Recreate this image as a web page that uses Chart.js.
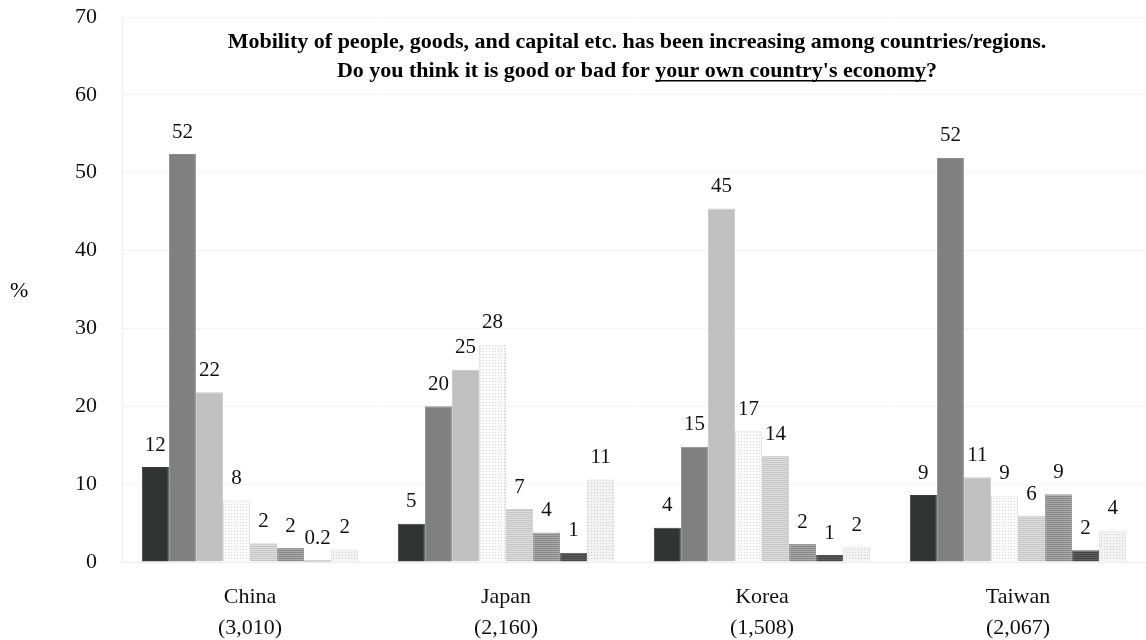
<!DOCTYPE html>
<html>
<head>
<meta charset="utf-8">
<script src="https://cdn.jsdelivr.net/npm/chart.js@4.4.0/dist/chart.umd.min.js"></script>
<style>
  html, body { margin: 0; padding: 0; background: #fff; }
  #wrap { width: 1146px; height: 640px; }
</style>
</head>
<body>
<div id="wrap"><canvas id="myChart" width="1146" height="640"></canvas></div>
<script>
const categories = [["China", "(3,010)"], ["Japan", "(2,160)"], ["Korea", "(1,508)"], ["Taiwan", "(2,067)"]];
// one array per answer option, values in % for China, Japan, Korea, Taiwan
const option1 = [12.2, 4.9, 4.4, 8.6];
const option2 = [52.4, 20.0, 14.8, 51.9];
const option3 = [21.8, 24.7, 45.4, 10.9];
const option4 = [7.9, 27.9, 16.8, 8.5];
const option5 = [2.4, 6.8, 13.6, 5.9];
const option6 = [1.8, 3.8, 2.3, 8.7];
const option7 = [0.2, 1.2, 0.9, 1.5];
const option8 = [1.6, 10.6, 1.9, 4.0];
const yTicks = [0, 10, 20, 30, 40, 50, 60, 70];

const titleLine1 = "Mobility of people, goods, and capital etc. has been increasing among countries/regions.";
const titleLine2a = "Do you think it is good or bad for ";
const titleLine2b = "your own country's economy";
const titleLine2c = "?";

const serif = "'Liberation Serif', 'Times New Roman', serif";

function stripes(c1, c2) {
    const p = document.createElement('canvas');
    p.width = 4; p.height = 4;
    const g = p.getContext('2d');
    g.fillStyle = c1; g.fillRect(0, 0, 4, 4);
    g.fillStyle = c2; g.fillRect(0, 0, 4, 1); g.fillRect(0, 2, 4, 1);
    return g.createPattern(p, 'repeat');
}
function dots(bg, dot) {
    const p = document.createElement('canvas');
    p.width = 3; p.height = 3;
    const g = p.getContext('2d');
    g.fillStyle = bg; g.fillRect(0, 0, 3, 3);
    g.fillStyle = dot; g.fillRect(0, 0, 1, 1);
    return g.createPattern(p, 'repeat');
}

const ctx = document.getElementById('myChart');

const fills = [
    "#323433",
    "#808080",
    "#c0c0c0",
    dots("#fafafa", "#d8d8d8"),
    stripes("#dedede", "#c4c4c4"),
    stripes("#a8a8a8", "#888888"),
    stripes("#5e5e5e", "#444444"),
    dots("#f2f2f2", "#d0d0d0")
];
const edges = ["#3c3c3c", "#8a8a8a", "#c8c8c8", "#e4e4e4", "#d4d4d4", "#9a9a9a", "#555555", "#e0e0e0"];
const seriesData = [option1, option2, option3, option4, option5, option6, option7, option8];

const valueLabels = {
    id: 'valueLabels',
    afterDatasetsDraw(chart) {
        const g = chart.ctx;
        g.save();
        g.font = "21px " + serif;
        g.fillStyle = "#111";
        g.textAlign = "center";
        g.textBaseline = "middle";
        chart.data.datasets.forEach((ds, i) => {
            chart.getDatasetMeta(i).data.forEach((bar, j) => {
                const v = ds.data[j];
                const txt = v < 0.5 ? String(v) : String(Math.round(v));
                g.fillText(txt, bar.x, bar.y - 22);
            });
        });
        g.restore();
    }
};

const extraText = {
    id: 'extraText',
    afterDraw(chart) {
        const g = chart.ctx;
        g.save();
        g.fillStyle = "#000";
        g.font = "bold 22px " + serif;
        g.textBaseline = "alphabetic";
        g.textAlign = "center";
        const cx = 637;
        g.fillText(titleLine1, cx, 48);
        const wa = g.measureText(titleLine2a).width;
        const wb = g.measureText(titleLine2b).width;
        const wc = g.measureText(titleLine2c).width;
        let x = cx - (wa + wb + wc) / 2;
        g.textAlign = "left";
        g.fillText(titleLine2a, x, 77);
        g.fillText(titleLine2b, x + wa, 77);
        g.fillRect(x + wa, 80, wb, 1.5);
        g.fillText(titleLine2c, x + wa + wb, 77);
        g.font = "22px " + serif;
        g.fillText("%", 10, 297);
        g.restore();
    }
};

new Chart(ctx, {
    type: "bar",
    data: {
        labels: categories,
        datasets: seriesData.map((d, i) => ({
            data: d,
            backgroundColor: fills[i],
            borderColor: edges[i],
            borderWidth: 1,
            categoryPercentage: 0.845,
            barPercentage: 1
        }))
    },
    options: {
        responsive: false,
        animation: false,
        layout: { padding: { top: 17, right: 0, left: 0, bottom: 0 } },
        plugins: {
            legend: { display: false },
            title: { display: false },
            tooltip: { enabled: false }
        },
        scales: {
            x: {
                grid: { display: false },
                border: { color: "#ececec" },
                ticks: {
                    color: "#111",
                    font: { family: serif, size: 22, lineHeight: 1.4 },
                    padding: 12
                },
                afterFit(scale) {
                    scale.height = 78;
                    scale.paddingLeft = 0; scale.paddingRight = 0;
                }
            },
            y: {
                min: 0,
                max: 70,
                afterBuildTicks(scale) { scale.ticks = yTicks.map(v => ({ value: v })); },
                grid: { color: "#f3f3f3", drawTicks: false },
                border: { color: "#ececec" },
                ticks: {
                    color: "#111",
                    font: { family: serif, size: 22 },
                    padding: 25
                },
                afterFit(scale) {
                    scale.width = 122;
                    scale.paddingTop = 0; scale.paddingBottom = 0;
                }
            }
        }
    },
    plugins: [valueLabels, extraText]
});
</script>
</body>
</html>
